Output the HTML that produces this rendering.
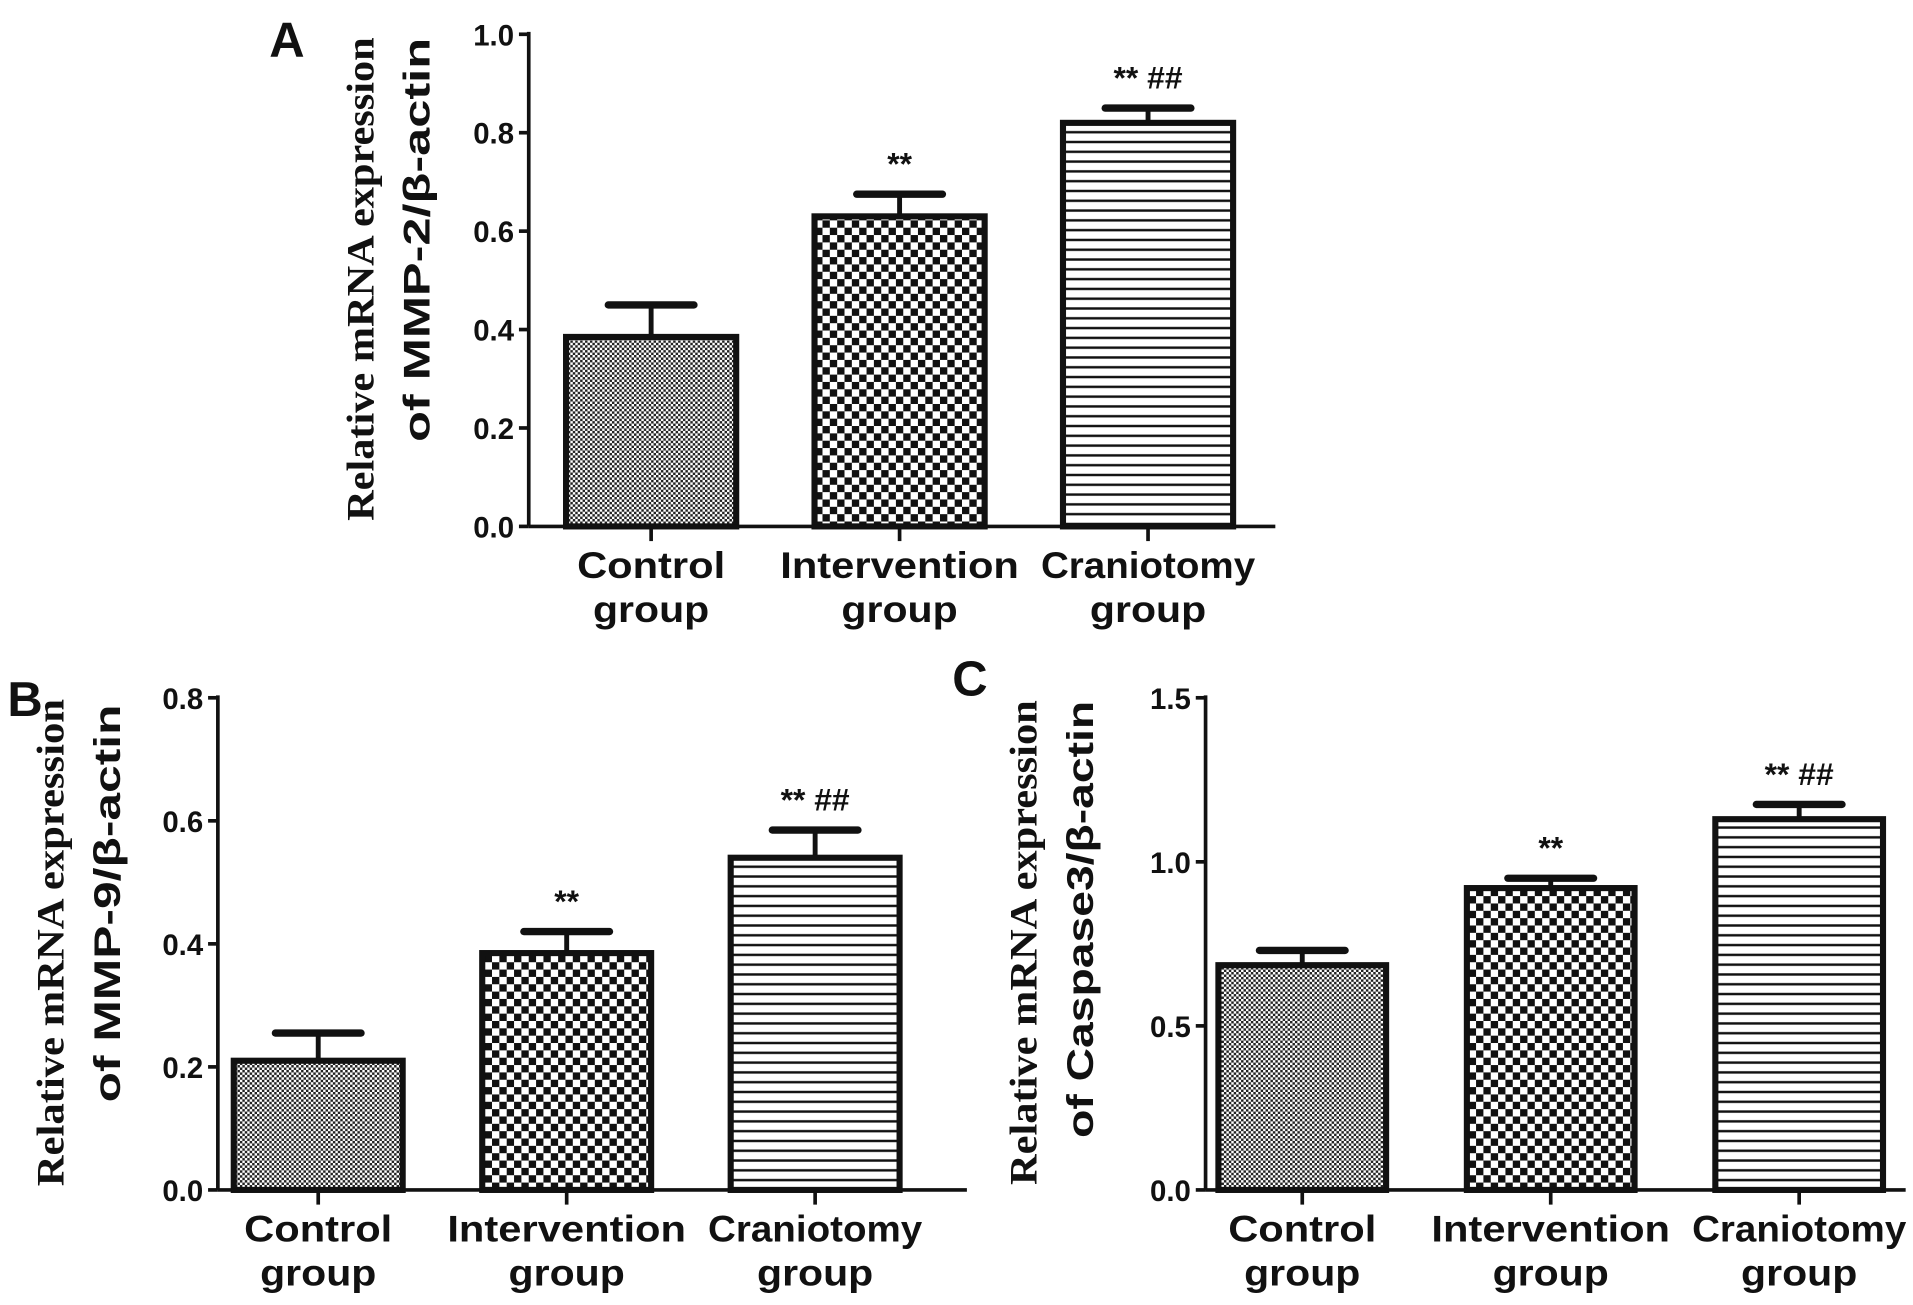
<!DOCTYPE html>
<html><head><meta charset="utf-8"><style>
html,body{margin:0;padding:0;background:#fff;}
svg{display:block;}
</style></head><body>
<svg id="fig" width="1913" height="1305" viewBox="0 0 1563 1066" preserveAspectRatio="none" xmlns="http://www.w3.org/2000/svg">
<defs>
<pattern id="pDot" width="4" height="4" patternUnits="userSpaceOnUse"><rect width="4" height="4" fill="#fff"/><rect width="2" height="2" fill="#222"/><rect x="2" y="2" width="2" height="2" fill="#222"/></pattern>
<pattern id="pCheck" width="12" height="12" patternUnits="userSpaceOnUse"><rect width="12" height="12" fill="#fff"/><rect width="6" height="6" fill="#111"/><rect x="6" y="6" width="6" height="6" fill="#111"/></pattern>
<pattern id="pLine" width="10" height="8" patternUnits="userSpaceOnUse"><rect width="10" height="8" fill="#fff"/><rect y="3" width="10" height="2" fill="#111"/></pattern>
</defs>
</svg>
<script>
const categories = [["Control","group"],["Intervention","group"],["Craniotomy","group"]];
const valuesA = [0.385, 0.63, 0.82];
const errorsA = [0.065, 0.045, 0.03];
const ticksA = [0, 0.2, 0.4, 0.6, 0.8, 1.0];
const valuesB = [0.21, 0.385, 0.54];
const errorsB = [0.045, 0.035, 0.045];
const ticksB = [0, 0.2, 0.4, 0.6, 0.8];
const valuesC = [0.685, 0.92, 1.13];
const errorsC = [0.045, 0.03, 0.045];
const ticksC = [0, 0.5, 1.0, 1.5];
const sigLabels = ["", "**", "** ##"];

const NS = "http://www.w3.org/2000/svg";
const svg = document.getElementById('fig');
const fills = ["url(#pDot)","url(#pCheck)","url(#pLine)"];
const labelW = [[121,95],[195,95],[175,95]];

function mk(tag, attrs, parent){const e=document.createElementNS(NS,tag);for(const k in attrs)e.setAttribute(k,attrs[k]);(parent||svg).appendChild(e);return e;}

function panel(cfg){
  const g = mk('g',{});
  
  
  const ymax = cfg.ticks[cfg.ticks.length-1];
  const yS = v => cfg.y0 - (v/ymax)*(cfg.y0-cfg.y1);
  const xC = i => cfg.firstC + i*cfg.step;
  cfg.values.forEach((v,i)=>{
    const top=yS(v+cfg.errors[i]);
    const eb=mk('g',{},g);
    
    
    mk('line',{x1:xC(i),x2:xC(i),y1:yS(v),y2:top,stroke:'#111','stroke-width':4},eb);
    mk('line',{x1:xC(i)-35,x2:xC(i)+35,y1:top,y2:top,stroke:'#111','stroke-width':6,'stroke-linecap':'round'},eb);
    const r=mk('rect',{x:xC(i)-cfg.bw/2,y:yS(v),width:cfg.bw,height:cfg.y0-yS(v),fill:fills[i],stroke:'#111','stroke-width':5},g);
    
    
    if(sigLabels[i]){
      const t=mk('text',{x:xC(i),y:top-16,'text-anchor':'middle','font-family':'Liberation Sans, sans-serif','font-size':26,'font-weight':'bold',fill:'#111'},g);
      t.textContent=sigLabels[i];
      
      
    }
    mk('line',{x1:xC(i),x2:xC(i),y1:cfg.y0,y2:cfg.y0+12,stroke:'#111','stroke-width':3},g);
    categories[i].forEach((s,j)=>{
      const t=mk('text',{x:xC(i),y:cfg.y0+42+j*36,'text-anchor':'middle','font-family':'Liberation Sans, sans-serif','font-size':30,'font-weight':'bold',fill:'#111',textLength:labelW[i][j],lengthAdjust:'spacingAndGlyphs'},g);
      t.textContent=s;
      
      
    });
  });
  const ya=mk('line',{x1:cfg.ax,x2:cfg.ax,y1:cfg.y1-2,y2:cfg.y0,stroke:'#111','stroke-width':3},g);
  
  
  const xa=mk('line',{x1:cfg.ax,x2:cfg.xEnd,y1:cfg.y0,y2:cfg.y0,stroke:'#111','stroke-width':3},g);
  
  
  cfg.ticks.forEach(t=>{
    mk('line',{x1:cfg.ax-8,x2:cfg.ax,y1:yS(t),y2:yS(t),stroke:'#111','stroke-width':3},g);
    const tx=mk('text',{x:cfg.ax-12,y:yS(t)+9,'text-anchor':'end','font-family':'Liberation Sans, sans-serif','font-size':24,'font-weight':'bold',fill:'#111'},g);
    tx.textContent=t.toFixed(1);
    
    
  });
  const t1=mk('text',{x:0,y:0,transform:`translate(${cfg.tx1},${cfg.cy1}) rotate(-90)`,'text-anchor':'middle','font-family':'Liberation Serif, serif','font-size':32,'font-weight':'bold',fill:'#111',textLength:cfg.len1,lengthAdjust:'spacingAndGlyphs'},g);
  t1.textContent='Relative mRNA expression';
  
  
  const t2=mk('text',{x:0,y:0,transform:`translate(${cfg.tx1+46},${cfg.cy2}) rotate(-90)`,'text-anchor':'middle','font-family':'Liberation Sans, sans-serif','font-size':30,'font-weight':'bold',fill:'#111',textLength:cfg.len2,lengthAdjust:'spacingAndGlyphs'},g);
  t2.textContent=cfg.title2;
  
  
  const L=mk('text',{x:cfg.lx,y:cfg.ly,'font-family':'Liberation Sans, sans-serif','font-size':40,'font-weight':'bold',fill:'#111'},g);
  L.textContent=cfg.letter;
  
  
}

panel({letter:'A',values:valuesA,errors:errorsA,ticks:ticksA,ax:432,xEnd:1042,y0:430,y1:28,firstC:532,step:203,bw:139,tx1:305,cy1:228,len1:395,title2:'of MMP-2/\u03B2-actin',cy2:196,len2:330,lx:220,ly:46});
panel({letter:'B',values:valuesB,errors:errorsB,ticks:ticksB,ax:178,xEnd:790,y0:972,y1:570,firstC:260,step:203,bw:138,tx1:52,cy1:770,len1:398,title2:'of MMP-9/\u03B2-actin',cy2:738,len2:325,lx:6,ly:585});
panel({letter:'C',values:valuesC,errors:errorsC,ticks:ticksC,ax:985,xEnd:1557,y0:972,y1:570,firstC:1064,step:203,bw:137,tx1:847,cy1:770,len1:396,title2:'of Caspase3/\u03B2-actin',cy2:751,len2:357,lx:778,ly:568});
</script>
</body></html>
